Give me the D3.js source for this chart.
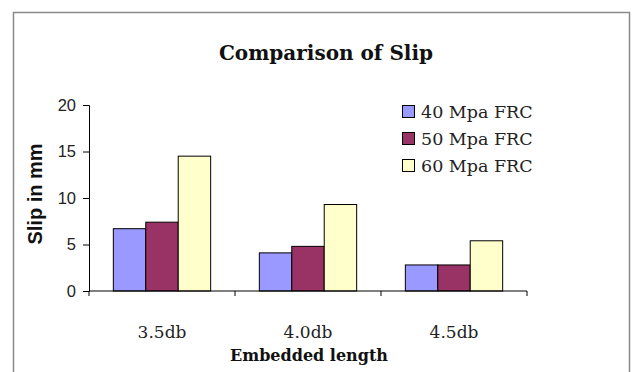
<!DOCTYPE html>
<html>
<head>
<meta charset="utf-8">
<script src="https://cdn.jsdelivr.net/npm/d3@7"></script>
<style>
  html, body { margin: 0; padding: 0; background: #fff; }
  svg { display: block; }
</style>
</head>
<body>
<svg id="chart" width="634" height="372"></svg>
<script>
// Slip (mm) per embedded length for three FRC grades
const categories = ["3.5db", "4.0db", "4.5db"];
const seriesNames = ["40 Mpa FRC", "50 Mpa FRC", "60 Mpa FRC"];
const slip40 = [6.7, 4.1, 2.8];
const slip50 = [7.4, 4.8, 2.8];
const slip60 = [14.5, 9.3, 5.4];
const yTicks = [0, 5, 10, 15, 20];
const seriesColors = ["#9999FF", "#993366", "#FFFFCC"];

const seriesValues = [slip40, slip50, slip60];
const rows = categories.map((c, i) => ({
  cat: c,
  vals: seriesNames.map((s, j) => ({ key: s, value: seriesValues[j][i], color: seriesColors[j] }))
}));

const svg = d3.select("#chart");
const serif = "'DejaVu Serif', 'Liberation Serif', serif";
const sans = "'Liberation Sans', Arial, sans-serif";

// outer chart frame
svg.append("rect")
  .attr("x", 13.5).attr("y", 12.5)
  .attr("width", 616).attr("height", 380)
  .attr("fill", "#fff").attr("stroke", "#8a8a8a").attr("stroke-width", 1.5);

const plot = { left: 89, right: 527, top: 105, bottom: 291 };

const x0 = d3.scaleBand().domain(categories).range([plot.left, plot.right]).paddingInner(0).paddingOuter(0);
const x1 = d3.scaleBand().domain(seriesNames).range([0, x0.bandwidth()]).paddingOuter(0.75).paddingInner(0);
const y = d3.scaleLinear().domain([0, 20]).range([plot.bottom, plot.top]);

// bars
const g = svg.append("g");
g.selectAll("g.cat").data(rows).join("g")
  .attr("class", "cat")
  .attr("transform", d => `translate(${x0(d.cat)},0)`)
  .selectAll("rect").data(d => d.vals).join("rect")
  .attr("x", d => x1(d.key))
  .attr("y", d => y(d.value))
  .attr("width", x1.bandwidth())
  .attr("height", d => y(0) - y(d.value))
  .attr("fill", d => d.color)
  .attr("stroke", "#000").attr("stroke-width", 1);

// y axis
const yAxis = svg.append("g")
  .attr("transform", `translate(${plot.left},0)`)
  .call(d3.axisLeft(y).tickValues(yTicks).tickSize(6).tickPadding(7).tickFormat(d3.format("d")));
yAxis.select(".domain").attr("stroke", "#000");
yAxis.selectAll(".tick line").attr("stroke", "#000");
yAxis.selectAll("text").attr("font-family", sans).attr("font-size", 16.5).attr("fill", "#222");

// x axis: ticks at category boundaries
const xAxisG = svg.append("g").attr("transform", `translate(0,${plot.bottom})`);
xAxisG.append("line")
  .attr("x1", plot.left).attr("x2", plot.right)
  .attr("stroke", "#000");
const boundaries = categories.map(c => x0(c)).concat([x0(categories[categories.length - 1]) + x0.bandwidth()]);
xAxisG.selectAll("line.tk").data(boundaries).join("line")
  .attr("class", "tk")
  .attr("x1", d => d).attr("x2", d => d)
  .attr("y1", 0).attr("y2", 5)
  .attr("stroke", "#000");
xAxisG.selectAll("text").data(categories).join("text")
  .attr("x", d => x0(d) + x0.bandwidth() / 2)
  .attr("y", 47)
  .attr("text-anchor", "middle")
  .attr("font-family", serif).attr("font-size", 17).attr("fill", "#222")
  .text(d => d);

// titles
svg.append("text")
  .attr("x", 326).attr("y", 60)
  .attr("text-anchor", "middle")
  .attr("font-family", serif).attr("font-weight", "bold").attr("font-size", 20)
  .attr("fill", "#111")
  .text("Comparison of Slip");

svg.append("text")
  .attr("x", 309).attr("y", 361)
  .attr("text-anchor", "middle")
  .attr("font-family", serif).attr("font-weight", "bold").attr("font-size", 16)
  .attr("fill", "#111")
  .text("Embedded length");

svg.append("text")
  .attr("transform", "translate(42,194) rotate(-90)")
  .attr("text-anchor", "middle")
  .attr("font-family", sans).attr("font-weight", "bold").attr("font-size", 20)
  .attr("fill", "#111")
  .text("Slip in mm");

// legend
const legend = svg.append("g").attr("transform", "translate(402,112)");
const items = legend.selectAll("g").data(seriesNames).join("g")
  .attr("transform", (d, i) => `translate(0,${i * 27})`);
items.append("rect")
  .attr("x", 0.5).attr("y", -6.5).attr("width", 12).attr("height", 12)
  .attr("fill", (d, i) => seriesColors[i]).attr("stroke", "#000");
items.append("text")
  .attr("x", 19).attr("y", 6)
  .attr("font-family", serif).attr("font-size", 17.5).attr("fill", "#222")
  .text(d => d);
</script>
</body>
</html>
